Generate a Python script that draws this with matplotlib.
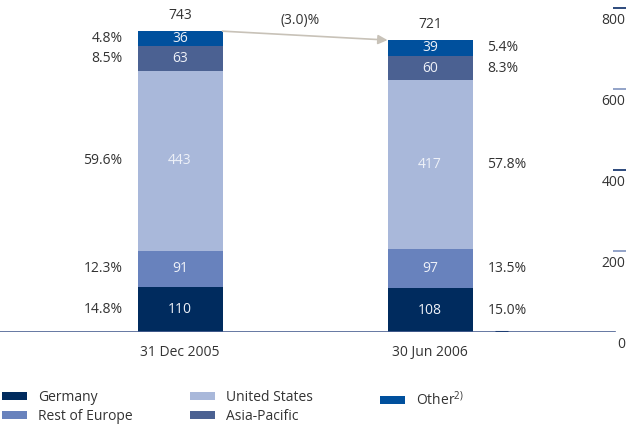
import matplotlib
matplotlib.use('Agg')
from matplotlib import pyplot as plt
import numpy as np

plt.rcParams['font.family'] = ['Open Sans', 'DejaVu Sans']

# data
periods = ['31 Dec 2005', '30 Jun 2006']
regions = ['Germany', 'Rest of Europe', 'United States', 'Asia-Pacific', 'Other']
legend_labels = ['Germany', 'Rest of Europe', 'United States', 'Asia-Pacific',
                 r'Other$^{\mathregular{2)}}$']
values = {
    'Germany': [110, 108],
    'Rest of Europe': [91, 97],
    'United States': [443, 417],
    'Asia-Pacific': [63, 60],
    'Other': [36, 39],
}
shares = {
    'Germany': ['14.8%', '15.0%'],
    'Rest of Europe': ['12.3%', '13.5%'],
    'United States': ['59.6%', '57.8%'],
    'Asia-Pacific': ['8.5%', '8.3%'],
    'Other': ['4.8%', '5.4%'],
}
totals = [743, 721]
change_label = '(3.0)%'
yticks = [0, 200, 400, 600, 800]

colors = {
    'Germany': '#002b5e',
    'Rest of Europe': '#6882bd',
    'United States': '#a9b8da',
    'Asia-Pacific': '#4b6192',
    'Other': '#00509d',
}
text_col = '#333333'

fig = plt.figure(figsize=(6.26, 4.25), dpi=100)
ax = fig.add_axes([0, 0.219, 1, 0.781])

x = np.arange(len(periods))
width = 0.34
bottom = np.zeros(len(periods))
handles = []
for reg in regions:
    v = np.array(values[reg])
    b = ax.bar(x, v, width, bottom=bottom, color=colors[reg], zorder=2)
    handles.append(b)
    mids = bottom + v / 2
    for i in range(len(periods)):
        ax.text(x[i], mids[i], str(v[i]), ha='center', va='center',
                color='#eef1f8', fontsize=10)
    # share labels: left of first bar, right of second bar
    ax.text(x[0] - width / 2 - 0.06, mids[0], shares[reg][0], ha='right',
            va='center', color=text_col, fontsize=10)
    ax.text(x[1] + width / 2 + 0.06, mids[1], shares[reg][1], ha='left',
            va='center', color=text_col, fontsize=10)
    bottom += v

for i in range(len(periods)):
    ax.text(x[i], totals[i] + 20, str(totals[i]), ha='center', va='bottom',
            color=text_col, fontsize=10)
    ax.text(x[i], -32, periods[i], ha='center', va='top', color=text_col,
            fontsize=10)

# arrow between bar tops
ax.annotate('', xy=(x[1] - width / 2, totals[1]), xytext=(x[0] + width / 2, totals[0]),
            arrowprops=dict(arrowstyle='-|>', color='#c8c2b8', lw=1.2,
                            mutation_scale=14, shrinkA=0, shrinkB=0))
ax.text((x[0] + x[1]) / 2 - 0.02, totals[0] + 8, change_label, ha='center',
        va='bottom', color=text_col, fontsize=10)

ax.set_xlim(-0.72, 1.784)
ax.set_ylim(0, 820)
ax.axis('off')

# baseline and right-hand scale
ax.axhline(0, xmin=0, xmax=615 / 626, color='#4b6192', lw=1.2, zorder=3)
ax.plot([1.26, 1.31], [0, 0], color='#1c3c72', lw=2.2, zorder=4,
        solid_capstyle='butt')
tick_cols = ['#4b6192', '#8a9cc4', '#1c3c72', '#8a9cc4', '#1c3c72']
for t, c in zip(yticks, tick_cols):
    if t > 0:
        ax.plot([1.73, 1.784], [t, t], color=c, lw=1.3, clip_on=False,
                solid_capstyle='butt')
    ax.text(1.782, t - 12, str(t), ha='right', va='top', color=text_col,
            fontsize=10)

# legend in three columns placed by hand
cols = [(-0.012, [0, 1]), (0.288, [2, 3]), (0.592, [4])]
for xpos, idx in cols:
    leg = fig.legend([handles[i] for i in idx], [legend_labels[i] for i in idx],
                     loc='upper left', bbox_to_anchor=(xpos, 0.105),
                     frameon=False, fontsize=10, handlelength=1.8,
                     handleheight=0.5, labelcolor=text_col, borderaxespad=0.3,
                     labelspacing=0.25, handletextpad=0.8)

plt.savefig('out.png', dpi=100)
